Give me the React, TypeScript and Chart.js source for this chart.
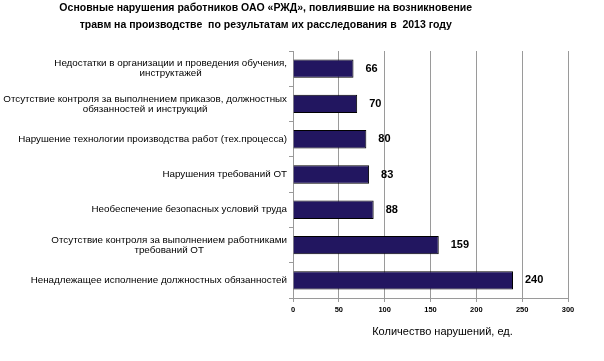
import { useEffect, useRef } from "react";
import { Chart, registerables } from "chart.js";

Chart.register(...registerables);

const titleLines = [
  "Основные нарушения работников ОАО «РЖД», повлиявшие на возникновение",
  "травм на производстве  по результатам их расследования в  2013 году",
];
const categories: string[][] = [
  ["Недостатки в организации и проведения обучения,", "инструктажей"],
  ["Отсутствие контроля за выполнением приказов, должностных", "обязанностей и инструкций"],
  ["Нарушение технологии производства работ (тех.процесса)"],
  ["Нарушения требований ОТ"],
  ["Необеспечение безопасных условий труда"],
  ["Отсутствие контроля за выполнением работниками", "требований ОТ"],
  ["Ненадлежащее исполнение должностных обязанностей"],
];
const values = [66, 70, 80, 83, 88, 159, 240];
const xMin = 0;
const xMax = 300;
const xStep = 50;
const xTitle = "Количество нарушений, ед.";

const FONT = "'Liberation Sans', Arial, sans-serif";

const textPlugin = {
  id: "textPlugin",
  afterDraw(chart: any) {
    const ctx = chart.ctx;
    const area = chart.chartArea;
    const yScale = chart.scales.y;
    ctx.save();
    ctx.fillStyle = "#000";

    // main title
    ctx.font = `bold 10.5px ${FONT}`;
    ctx.textAlign = "center";
    ctx.textBaseline = "middle";
    const tx = chart.width * 0.44;
    titleLines.forEach((l, i) => ctx.fillText(l, tx, 8 + i * 17.5));

    // category labels
    ctx.font = `9.8px ${FONT}`;
    categories.forEach((lines, i) => {
      const y = yScale.getPixelForValue(i);
      const lh = 10;
      const maxW = Math.max(...lines.map((l) => ctx.measureText(l).width));
      const cx = area.left - 6 - maxW / 2;
      const y0 = y - ((lines.length - 1) * lh) / 2;
      lines.forEach((l, j) => ctx.fillText(l, cx, y0 + j * lh));
    });

    // value labels
    ctx.font = `bold 11px ${FONT}`;
    ctx.textAlign = "left";
    const meta = chart.getDatasetMeta(0);
    meta.data.forEach((el: any, i: number) => {
      ctx.fillText(String(values[i]), el.x + 12, el.y);
    });

    // x axis title
    ctx.font = `11px ${FONT}`;
    ctx.textAlign = "center";
    ctx.fillText(xTitle, (area.left + area.right) / 2 + 12, 332);
    ctx.restore();
  },
};

export default function App() {
  const ref = useRef<HTMLCanvasElement>(null);
  useEffect(() => {
    if (!ref.current) return;
    const chart = new Chart(ref.current, {
      type: "bar",
      data: {
        labels: categories.map((c) => c.join(" ")),
        datasets: [
          {
            data: values,
            backgroundColor: "#221660",
            borderColor: "#000000",
            borderWidth: 1,
            barPercentage: 0.52,
            categoryPercentage: 1,
          },
        ],
      },
      options: {
        indexAxis: "y",
        animation: false,
        responsive: false,
        maintainAspectRatio: false,
        layout: { padding: { top: 51, right: 36, left: 0, bottom: 0 } },
        plugins: {
          legend: { display: false },
          title: { display: false },
          tooltip: { enabled: false },
        },
        scales: {
          x: {
            min: xMin,
            max: xMax,
            afterFit: (s: any) => {
              s.height = 63;
            },
            ticks: {
              stepSize: xStep,
              color: "#000",
              font: { family: FONT, size: 7.5, weight: "bold" },
              padding: 3,
            },
            grid: { color: "#9a9a9a", tickLength: 4, lineWidth: 1 },
            border: { color: "#9a9a9a" },
          },
          y: {
            afterFit: (s: any) => {
              s.width = 293;
            },
            ticks: { display: false },
            grid: { offset: true, drawOnChartArea: false, tickLength: 4, color: "#9a9a9a" },
            border: { color: "#9a9a9a" },
          },
        },
      },
      plugins: [textPlugin],
    } as any);
    return () => chart.destroy();
  }, []);
  return (
    <div style={{ position: "absolute", left: 0, top: 0, width: 604, height: 361, background: "#fff" }}>
      <canvas ref={ref} width={604} height={361} style={{ width: 604, height: 361 }} />
    </div>
  );
}
